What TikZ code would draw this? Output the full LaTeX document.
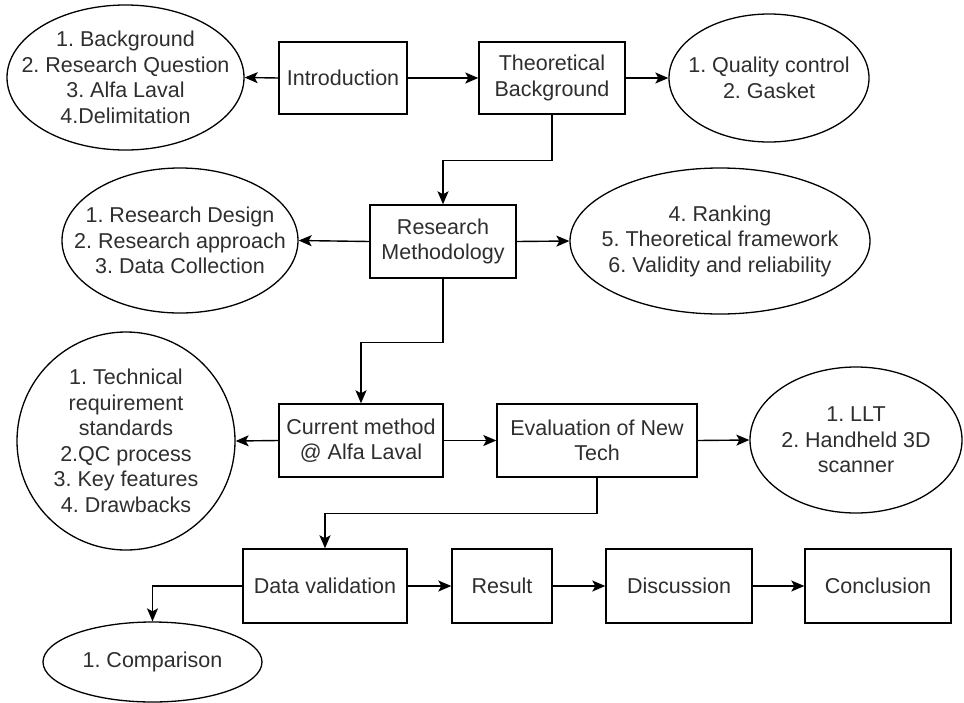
\documentclass[tikz,border=0pt]{standalone}
\usepackage{fontspec}
\setmainfont{Liberation Sans}
\usetikzlibrary{shapes.geometric,arrows.meta}
\frenchspacing

\tikzset{
  box/.style={draw=black, line width=1.4pt, rectangle, inner sep=0pt,
    align=center, text=black!82, font=\fontsize{21.5}{25.5}\selectfont},
  topic/.style={draw=black, line width=1.3pt, ellipse, inner sep=0pt},
  topictext/.style={align=center, text=black!82, inner sep=0pt,
    font=\fontsize{21.5}{25.5}\selectfont},
  arr/.style={draw=black, line width=1.4pt,
    -{Stealth[length=13pt,width=11pt,inset=3pt]}}
}

\begin{document}
\begin{tikzpicture}[x=1pt,y=-1pt]
\useasboundingbox (0,0) rectangle (964,702);

% first row: introduction and theory
\node[topic, minimum width=237pt, minimum height=145pt] (bgE) at (125.5,77.5) {};
\node[topictext] (bgT) at (bgE) {1. Background\\2. Research Question\\3. Alfa Laval\\4.Delimitation};
\node[box, minimum width=128pt, minimum height=72pt] (intro) at (343,78) {Introduction};
\node[box, minimum width=146pt, minimum height=72pt] (theo) at (552,78) {Theoretical\\Background};
\node[topic, minimum width=200pt, minimum height=128pt] (qcE) at (769,78) {};
\node[topictext] (qcT) at (qcE) {1. Quality control\\2. Gasket};

% second row: methodology
\node[topic, minimum width=236pt, minimum height=145pt] (rdE) at (180,240.5) {};
\node[topictext] (rdT) at (rdE) {1. Research Design\\2. Research approach\\3. Data Collection};
\node[box, minimum width=146pt, minimum height=73pt] (rm) at (443,241.5) {Research\\Methodology};
\node[topic, minimum width=300pt, minimum height=146pt] (rkE) at (720,241) {};
\node[topictext] (rkT) at (rkE) {4. Ranking\\5. Theoretical framework\\6. Validity and reliability};

% third row: current method and new technology
\node[topic, minimum width=218pt, minimum height=218pt] (techE) at (126,441) {};
\node[topictext] (techT) at (techE) {1. Technical\\requirement\\standards\\2.QC process\\3. Key features\\4. Drawbacks};
\node[box, minimum width=164pt, minimum height=73pt] (cur) at (361,440.5) {Current method\\@ Alfa Laval};
\node[box, minimum width=200pt, minimum height=73pt] (ev) at (597,440.5) {Evaluation of New\\Tech};
\node[topic, minimum width=212pt, minimum height=146pt] (lltE) at (856,440) {};
\node[topictext] (lltT) at (lltE) {1. LLT\\2. Handheld 3D\\scanner};

% fourth row: validation to conclusion
\node[box, minimum width=164pt, minimum height=74pt] (dv) at (325,586) {Data validation};
\node[box, minimum width=100pt, minimum height=74pt] (res) at (502,586) {Result};
\node[box, minimum width=146pt, minimum height=74pt] (disc) at (679,586) {Discussion};
\node[box, minimum width=146pt, minimum height=74pt] (conc) at (878,586) {Conclusion};
\node[topic, minimum width=219pt, minimum height=80pt] (cmpE) at (152.5,662) {};
\node[topictext] (cmpT) at (cmpE) {1. Comparison};

% connectors
\draw[arr] (intro.west) -- (bgE.east);
\draw[arr] (intro.east) -- (theo.west);
\draw[arr] (theo.east) -- (qcE.west);
\draw[arr] (theo.south) -- ++(0,46) -| (rm.north);
\draw[arr] (rm.west) -- (rdE.east);
\draw[arr] (rm.east) -- (rkE.west);
\draw[arr] (rm.south) -- ++(0,64) -| (cur.north);
\draw[arr] (cur.west) -- (techE.east);
\draw[arr] (cur.east) -- (ev.west);
\draw[arr] (ev.east) -- (lltE.west);
\draw[arr] (ev.south) -- ++(0,36) -| (dv.north);
\draw[arr] (dv.east) -- (res.west);
\draw[arr] (res.east) -- (disc.west);
\draw[arr] (disc.east) -- (conc.west);
\draw[arr] (dv.west) -| (cmpE.north);
\end{tikzpicture}
\end{document}
